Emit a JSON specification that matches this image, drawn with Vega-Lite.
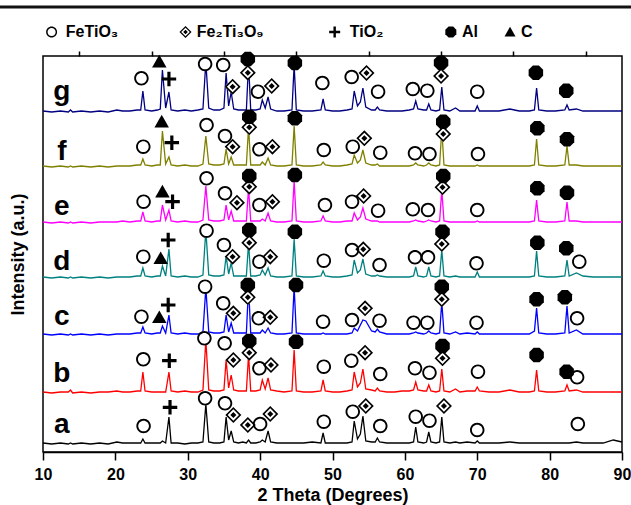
{
  "$schema": "https://vega.github.io/schema/vega-lite/v6.json",
  "width": 579,
  "height": 396,
  "autosize": {"type": "none"},
  "padding": {"left": 43, "top": 56, "right": 9, "bottom": 53},
  "config": {
    "view": {"stroke": "#000", "strokeWidth": 1.5},
    "font": "Liberation Sans",
    "axisX": {"domainColor": "#000", "domainWidth": 1.5, "tickColor": "#000", "tickWidth": 1.5, "grid": false, "labelFont": "Liberation Sans", "labelFontWeight": "bold", "labelFontSize": 16, "labelColor": "#000", "labelFlush": false, "titleFont": "Liberation Sans", "titleFontWeight": "bold", "titleFontSize": 18, "titleColor": "#000"},
    "axisY": {"labels": false, "ticks": false, "domain": false, "grid": false, "titleFont": "Liberation Sans", "titleFontWeight": "bold", "titleFontSize": 18, "titleColor": "#000", "titlePadding": 16}
  },
  "resolve": {"axis": {"x": "independent"}},
  "datasets": {
    "xrd": [
      {"x":10,"a":9,"b":60,"c":118,"d":175,"e":230,"f":286,"g":341},
      {"x":11.2,"a":8,"b":59,"c":117,"d":174,"e":229,"f":285,"g":340},
      {"x":12.4,"a":9,"b":60,"c":118,"d":175,"e":230,"f":286,"g":341},
      {"x":13.5,"a":8,"b":60,"c":117,"d":174,"e":229,"f":285,"g":340},
      {"x":13.8,"a":9,"b":62,"c":118,"d":175,"e":230,"f":286,"g":342},
      {"x":14.1,"a":8,"b":59,"c":117,"d":174,"e":229,"f":285,"g":340},
      {"x":15.3,"a":9,"b":60,"c":118,"d":175,"e":230,"f":286,"g":341},
      {"x":16.6,"a":8,"b":59,"c":117,"d":174,"e":229,"f":285,"g":340},
      {"x":17.8,"a":9,"b":60,"c":118,"d":175,"e":230,"f":286,"g":341},
      {"x":19,"a":8,"b":60,"c":117,"d":174,"e":230,"f":285,"g":340},
      {"x":20.2,"a":10,"b":61,"c":118,"d":175,"e":230,"f":286,"g":342},
      {"x":21,"a":9,"b":60,"c":118,"d":175,"e":231,"f":286,"g":341},
      {"x":22,"a":9,"b":60,"c":118,"d":175,"e":230,"f":286,"g":341},
      {"x":23,"a":9,"b":61,"c":119,"d":176,"e":231,"f":287,"g":342},
      {"x":23.5,"a":9,"b":61,"c":119,"d":176,"e":231,"f":287,"g":342},
      {"x":23.8,"a":13,"b":80,"c":125,"d":184,"e":240,"f":293,"g":361},
      {"x":24.1,"a":9,"b":61,"c":119,"d":176,"e":231,"f":287,"g":342},
      {"x":25,"a":9,"b":60,"c":118,"d":175,"e":230,"f":286,"g":341},
      {"x":25.8,"a":9,"b":60,"c":119,"d":176,"e":231,"f":287,"g":342},
      {"x":26.2,"a":9,"b":60,"c":119,"d":176,"e":231,"f":287,"g":343},
      {"x":26.5,"a":11,"b":60,"c":126,"d":186,"e":247,"f":321,"g":382},
      {"x":26.95,"a":9,"b":60,"c":119,"d":176,"e":232,"f":288,"g":344},
      {"x":27.4,"a":35,"b":80,"c":137,"d":203,"e":242,"f":295,"g":360},
      {"x":27.7,"a":9,"b":61,"c":119,"d":176,"e":231,"f":287,"g":342},
      {"x":28.6,"a":9,"b":60,"c":118,"d":175,"e":230,"f":286,"g":341},
      {"x":29.6,"a":8,"b":61,"c":119,"d":176,"e":231,"f":287,"g":342},
      {"x":30.5,"a":9,"b":60,"c":118,"d":175,"e":230,"f":286,"g":341},
      {"x":31.4,"a":9,"b":60,"c":118,"d":175,"e":230,"f":286,"g":342},
      {"x":32.1,"a":10,"b":62,"c":120,"d":177,"e":232,"f":288,"g":343},
      {"x":32.5,"a":48,"b":112,"c":164,"d":222,"e":266,"f":316,"g":390},
      {"x":32.9,"a":10,"b":62,"c":120,"d":177,"e":232,"f":288,"g":344},
      {"x":33.6,"a":9,"b":61,"c":119,"d":176,"e":231,"f":287,"g":342},
      {"x":34.4,"a":9,"b":61,"c":119,"d":176,"e":231,"f":287,"g":342},
      {"x":35,"a":10,"b":62,"c":120,"d":177,"e":232,"f":288,"g":344},
      {"x":35.3,"a":35,"b":92,"c":137,"d":196,"e":247,"f":303,"g":379},
      {"x":35.65,"a":12,"b":64,"c":120,"d":178,"e":232,"f":288,"g":346},
      {"x":36,"a":21,"b":77,"c":129,"d":189,"e":241,"f":295,"g":360},
      {"x":36.35,"a":10,"b":62,"c":119,"d":176,"e":231,"f":287,"g":343},
      {"x":37,"a":9,"b":61,"c":119,"d":176,"e":231,"f":287,"g":342},
      {"x":37.6,"a":10,"b":61,"c":119,"d":176,"e":231,"f":287,"g":342},
      {"x":38.1,"a":9,"b":61,"c":119,"d":176,"e":231,"f":287,"g":342},
      {"x":38.4,"a":12,"b":97,"c":165,"d":209,"e":264,"f":325,"g":389},
      {"x":38.7,"a":9,"b":61,"c":119,"d":176,"e":231,"f":287,"g":342},
      {"x":39.4,"a":9,"b":61,"c":119,"d":176,"e":231,"f":287,"g":342},
      {"x":40,"a":10,"b":62,"c":119,"d":177,"e":231,"f":287,"g":343},
      {"x":40.3,"a":12,"b":72,"c":122,"d":182,"e":233,"f":290,"g":352},
      {"x":40.7,"a":10,"b":63,"c":119,"d":177,"e":231,"f":287,"g":344},
      {"x":41.1,"a":21,"b":74,"c":124,"d":184,"e":239,"f":294,"g":355},
      {"x":41.45,"a":10,"b":62,"c":119,"d":176,"e":231,"f":287,"g":343},
      {"x":42.3,"a":9,"b":61,"c":118,"d":175,"e":230,"f":286,"g":341},
      {"x":43.3,"a":9,"b":60,"c":118,"d":175,"e":230,"f":286,"g":341},
      {"x":44.4,"a":9,"b":61,"c":119,"d":176,"e":231,"f":287,"g":342},
      {"x":44.7,"a":9,"b":102,"c":165,"d":213,"e":271,"f":326,"g":387},
      {"x":45,"a":9,"b":61,"c":119,"d":176,"e":231,"f":287,"g":342},
      {"x":46,"a":9,"b":60,"c":118,"d":175,"e":230,"f":286,"g":341},
      {"x":47.2,"a":10,"b":60,"c":118,"d":175,"e":230,"f":286,"g":341},
      {"x":48.4,"a":9,"b":61,"c":118,"d":176,"e":231,"f":287,"g":342},
      {"x":48.7,"a":19,"b":72,"c":119,"d":181,"e":236,"f":290,"g":353},
      {"x":49,"a":9,"b":61,"c":118,"d":176,"e":231,"f":287,"g":342},
      {"x":50,"a":9,"b":60,"c":118,"d":175,"e":230,"f":286,"g":341},
      {"x":51,"a":9,"b":60,"c":118,"d":175,"e":230,"f":286,"g":341},
      {"x":52,"a":9,"b":61,"c":118,"d":176,"e":231,"f":287,"g":342},
      {"x":52.7,"a":10,"b":62,"c":119,"d":177,"e":231,"f":288,"g":343},
      {"x":53,"a":31,"b":80,"c":124,"d":192,"e":239,"f":297,"g":361},
      {"x":53.45,"a":13,"b":65,"c":121,"d":179,"e":232,"f":289,"g":346},
      {"x":53.85,"a":18,"b":69,"c":127,"d":182,"e":235,"f":292,"g":350},
      {"x":54.2,"a":36,"b":83,"c":132,"d":193,"e":244,"f":302,"g":364},
      {"x":54.6,"a":11,"b":63,"c":131,"d":178,"e":233,"f":289,"g":345},
      {"x":55.4,"a":10,"b":62,"c":121,"d":176,"e":231,"f":287,"g":342},
      {"x":55.9,"a":10,"b":61,"c":120,"d":176,"e":231,"f":287,"g":342},
      {"x":56.2,"a":14,"b":64,"c":123,"d":177,"e":231,"f":288,"g":345},
      {"x":56.5,"a":10,"b":61,"c":120,"d":176,"e":230,"f":286,"g":342},
      {"x":57.5,"a":9,"b":60,"c":118,"d":175,"e":230,"f":286,"g":341},
      {"x":58.6,"a":9,"b":60,"c":118,"d":175,"e":230,"f":286,"g":341},
      {"x":59.6,"a":9,"b":61,"c":118,"d":175,"e":230,"f":286,"g":341},
      {"x":60.6,"a":9,"b":61,"c":118,"d":175,"e":230,"f":286,"g":342},
      {"x":61.2,"a":10,"b":62,"c":119,"d":176,"e":231,"f":287,"g":343},
      {"x":61.5,"a":25,"b":70,"c":120,"d":185,"e":232,"f":289,"g":351},
      {"x":61.8,"a":10,"b":62,"c":119,"d":176,"e":231,"f":287,"g":343},
      {"x":62.6,"a":9,"b":61,"c":118,"d":175,"e":230,"f":286,"g":342},
      {"x":63,"a":10,"b":61,"c":119,"d":176,"e":231,"f":287,"g":342},
      {"x":63.3,"a":20,"b":67,"c":121,"d":185,"e":232,"f":289,"g":348},
      {"x":63.6,"a":10,"b":61,"c":119,"d":176,"e":231,"f":287,"g":342},
      {"x":64.3,"a":9,"b":60,"c":118,"d":175,"e":230,"f":286,"g":341},
      {"x":64.8,"a":10,"b":61,"c":119,"d":176,"e":231,"f":287,"g":342},
      {"x":65.1,"a":35,"b":83,"c":150,"d":202,"e":262,"f":323,"g":365},
      {"x":65.4,"a":10,"b":61,"c":119,"d":176,"e":231,"f":287,"g":342},
      {"x":66.2,"a":9,"b":60,"c":118,"d":175,"e":230,"f":286,"g":341},
      {"x":67,"a":10,"b":63,"c":120,"d":176,"e":230,"f":286,"g":344},
      {"x":67.6,"a":9,"b":60,"c":118,"d":175,"e":230,"f":286,"g":341},
      {"x":68.6,"a":10,"b":61,"c":119,"d":175,"e":230,"f":286,"g":341},
      {"x":69.7,"a":9,"b":61,"c":118,"d":175,"e":230,"f":286,"g":341},
      {"x":70,"a":11,"b":65,"c":120,"d":180,"e":231,"f":287,"g":346},
      {"x":70.3,"a":9,"b":61,"c":118,"d":175,"e":230,"f":286,"g":341},
      {"x":71.6,"a":9,"b":60,"c":118,"d":175,"e":230,"f":286,"g":341},
      {"x":73,"a":9,"b":60,"c":118,"d":175,"e":230,"f":286,"g":341},
      {"x":74.5,"a":10,"b":62,"c":118,"d":175,"e":230,"f":286,"g":343},
      {"x":75.8,"a":9,"b":60,"c":118,"d":175,"e":230,"f":286,"g":341},
      {"x":77.2,"a":9,"b":60,"c":118,"d":175,"e":230,"f":286,"g":341},
      {"x":77.9,"a":9,"b":61,"c":121,"d":176,"e":231,"f":287,"g":342},
      {"x":78.2,"a":9,"b":82,"c":144,"d":201,"e":252,"f":313,"g":364},
      {"x":78.5,"a":9,"b":61,"c":119,"d":176,"e":231,"f":287,"g":342},
      {"x":79.6,"a":9,"b":60,"c":118,"d":175,"e":230,"f":286,"g":341},
      {"x":80.8,"a":9,"b":60,"c":118,"d":175,"e":230,"f":286,"g":341},
      {"x":82.1,"a":9,"b":61,"c":119,"d":176,"e":231,"f":287,"g":342},
      {"x":82.4,"a":9,"b":67,"c":146,"d":192,"e":250,"f":306,"g":347},
      {"x":82.7,"a":9,"b":61,"c":119,"d":176,"e":231,"f":287,"g":342},
      {"x":83.7,"a":10,"b":62,"c":122,"d":179,"e":231,"f":287,"g":343},
      {"x":84.6,"a":9,"b":60,"c":118,"d":176,"e":230,"f":286,"g":341},
      {"x":86,"a":9,"b":60,"c":118,"d":175,"e":230,"f":286,"g":341},
      {"x":87.4,"a":9,"b":60,"c":118,"d":175,"e":230,"f":286,"g":341},
      {"x":88.8,"a":12,"b":60,"c":118,"d":175,"e":230,"f":286,"g":341},
      {"x":90,"a":10,"b":60,"c":118,"d":175,"e":230,"f":286,"g":341}
    ],
    "b1": [{"x":4,"y":445},{"x":91.5,"y":445}],
    "markers": [
      {"t":"FeTiO3","x":23.6,"y":373.7},{"t":"C","x":26.07,"y":390.3},{"t":"TiO2","x":27.4,"y":373},{"t":"FeTiO3","x":32.4,"y":388},{"t":"FeTiO3","x":34.9,"y":387},{"t":"Fe2Ti3O9","x":36.2,"y":365.3},{"t":"Fe2Ti3O9","x":38.3,"y":379.3},{"t":"Al","x":38.3,"y":393},{"t":"FeTiO3","x":39.7,"y":360.3},{"t":"Fe2Ti3O9","x":41.6,"y":366},{"t":"Al","x":44.8,"y":389},{"t":"FeTiO3","x":48.6,"y":369},{"t":"FeTiO3","x":52.65,"y":375},{"t":"Fe2Ti3O9","x":54.7,"y":379},{"t":"FeTiO3","x":56.3,"y":360.3},{"t":"FeTiO3","x":61.1,"y":363},{"t":"FeTiO3","x":63.1,"y":361.3},{"t":"Fe2Ti3O9","x":65.0,"y":376},{"t":"Al","x":65.0,"y":389.3},{"t":"FeTiO3","x":70.0,"y":360.3},{"t":"Al","x":78.1,"y":379.3},{"t":"Al","x":82.3,"y":361.3},
      {"t":"FeTiO3","x":23.86,"y":305.3},{"t":"C","x":26.4,"y":330.3},{"t":"TiO2","x":27.8,"y":309.3},{"t":"FeTiO3","x":32.6,"y":327},{"t":"FeTiO3","x":35.15,"y":316},{"t":"Fe2Ti3O9","x":36.2,"y":305.3},{"t":"Fe2Ti3O9","x":38.5,"y":324.7},{"t":"Al","x":38.5,"y":335.3},{"t":"FeTiO3","x":39.9,"y":302.7},{"t":"Fe2Ti3O9","x":41.7,"y":305.3},{"t":"Al","x":44.8,"y":333.7},{"t":"FeTiO3","x":48.8,"y":302},{"t":"FeTiO3","x":52.8,"y":305.3},{"t":"Fe2Ti3O9","x":54.4,"y":313.7},{"t":"FeTiO3","x":56.6,"y":299.3},{"t":"FeTiO3","x":61.4,"y":298.7},{"t":"FeTiO3","x":63.4,"y":298},{"t":"Fe2Ti3O9","x":65.3,"y":318},{"t":"Al","x":65.3,"y":330.3},{"t":"FeTiO3","x":70.1,"y":298},{"t":"Al","x":78.3,"y":323.7},{"t":"Al","x":82.4,"y":312.7},
      {"t":"FeTiO3","x":23.9,"y":250.3},{"t":"C","x":26.5,"y":260.3},{"t":"TiO2","x":27.9,"y":250.3},{"t":"FeTiO3","x":32.6,"y":273.7},{"t":"FeTiO3","x":35.15,"y":258.7},{"t":"Fe2Ti3O9","x":36.8,"y":249.3},{"t":"Fe2Ti3O9","x":38.5,"y":265.3},{"t":"Al","x":38.5,"y":276},{"t":"FeTiO3","x":39.9,"y":247},{"t":"Fe2Ti3O9","x":41.7,"y":250.3},{"t":"Al","x":44.8,"y":277},{"t":"FeTiO3","x":48.96,"y":247},{"t":"FeTiO3","x":52.7,"y":250.3},{"t":"Fe2Ti3O9","x":54.3,"y":256},{"t":"FeTiO3","x":56.3,"y":241.3},{"t":"FeTiO3","x":61.1,"y":242.7},{"t":"FeTiO3","x":63.2,"y":242},{"t":"Fe2Ti3O9","x":65.2,"y":264.7},{"t":"Al","x":65.3,"y":276},{"t":"FeTiO3","x":70.0,"y":242},{"t":"Al","x":78.3,"y":263.7},{"t":"Al","x":82.4,"y":259.3},
      {"t":"FeTiO3","x":23.86,"y":195.3},{"t":"C","x":26.26,"y":193.7},{"t":"TiO2","x":27.3,"y":212},{"t":"FeTiO3","x":32.6,"y":221.3},{"t":"FeTiO3","x":35.0,"y":207},{"t":"Fe2Ti3O9","x":36.2,"y":195.3},{"t":"Fe2Ti3O9","x":38.5,"y":209.3},{"t":"Al","x":38.5,"y":222},{"t":"FeTiO3","x":39.9,"y":190.3},{"t":"Fe2Ti3O9","x":41.4,"y":195.3},{"t":"Al","x":44.8,"y":220.3},{"t":"FeTiO3","x":48.8,"y":191.3},{"t":"FeTiO3","x":52.7,"y":202},{"t":"Fe2Ti3O9","x":54.25,"y":202.7},{"t":"FeTiO3","x":56.5,"y":187},{"t":"FeTiO3","x":61.4,"y":194.7},{"t":"FeTiO3","x":63.2,"y":194.7},{"t":"Fe2Ti3O9","x":65.1,"y":208},{"t":"Al","x":65.2,"y":220.3},{"t":"FeTiO3","x":69.9,"y":188.7},{"t":"Al","x":78.3,"y":209.3},{"t":"Al","x":82.3,"y":203.7},{"t":"FeTiO3","x":84.1,"y":190.3},
      {"t":"FeTiO3","x":23.6,"y":135.3},{"t":"C","x":26.07,"y":134.7},{"t":"TiO2","x":27.3,"y":147},{"t":"FeTiO3","x":32.4,"y":165.3},{"t":"FeTiO3","x":34.9,"y":148.7},{"t":"Fe2Ti3O9","x":36.3,"y":138.7},{"t":"Fe2Ti3O9","x":38.3,"y":154.7},{"t":"Al","x":38.3,"y":167},{"t":"FeTiO3","x":39.8,"y":133.7},{"t":"Fe2Ti3O9","x":41.4,"y":134.7},{"t":"Al","x":44.96,"y":167},{"t":"FeTiO3","x":48.7,"y":130.3},{"t":"FeTiO3","x":52.7,"y":132},{"t":"Fe2Ti3O9","x":54.5,"y":143.7},{"t":"FeTiO3","x":56.5,"y":131.3},{"t":"FeTiO3","x":61.2,"y":129.3},{"t":"FeTiO3","x":63.1,"y":129.3},{"t":"Fe2Ti3O9","x":65.1,"y":152.7},{"t":"Al","x":65.1,"y":165.3},{"t":"FeTiO3","x":69.9,"y":129.3},{"t":"Al","x":78.2,"y":152.7},{"t":"Al","x":82.1,"y":154.7},{"t":"FeTiO3","x":83.8,"y":133.7},
      {"t":"FeTiO3","x":23.86,"y":92.7},{"t":"TiO2","x":27.45,"y":91.3},{"t":"FeTiO3","x":32.3,"y":113.7},{"t":"FeTiO3","x":35.1,"y":108.7},{"t":"Fe2Ti3O9","x":36.3,"y":92},{"t":"Fe2Ti3O9","x":38.5,"y":99.3},{"t":"Al","x":38.5,"y":111},{"t":"FeTiO3","x":39.9,"y":83.7},{"t":"Fe2Ti3O9","x":41.5,"y":87},{"t":"Al","x":44.96,"y":110.3},{"t":"FeTiO3","x":48.8,"y":85.3},{"t":"FeTiO3","x":52.6,"y":91.3},{"t":"Fe2Ti3O9","x":54.5,"y":99.3},{"t":"FeTiO3","x":56.6,"y":78},{"t":"FeTiO3","x":61.4,"y":83.7},{"t":"FeTiO3","x":63.4,"y":79.3},{"t":"Fe2Ti3O9","x":65.2,"y":93.7},{"t":"Al","x":65.2,"y":106},{"t":"FeTiO3","x":70.1,"y":80.3},{"t":"Al","x":78.2,"y":97},{"t":"Al","x":82.35,"y":80.3},{"t":"FeTiO3","x":83.8,"y":74.7},
      {"t":"FeTiO3","x":23.9,"y":26},{"t":"TiO2","x":27.55,"y":44.7},{"t":"FeTiO3","x":32.4,"y":53.7},{"t":"FeTiO3","x":35.15,"y":48.7},{"t":"Fe2Ti3O9","x":36.3,"y":37},{"t":"Fe2Ti3O9","x":38.3,"y":27},{"t":"FeTiO3","x":40.0,"y":28},{"t":"Fe2Ti3O9","x":41.4,"y":38},{"t":"FeTiO3","x":48.8,"y":30.3},{"t":"FeTiO3","x":52.8,"y":40.3},{"t":"Fe2Ti3O9","x":54.6,"y":46},{"t":"FeTiO3","x":56.6,"y":26},{"t":"FeTiO3","x":61.5,"y":35.3},{"t":"FeTiO3","x":63.4,"y":31.3},{"t":"Fe2Ti3O9","x":65.4,"y":46},{"t":"FeTiO3","x":70.0,"y":22},{"t":"FeTiO3","x":83.9,"y":28}
    ],
    "labels": [
      {"s":"a","x":12.6,"y":19},{"s":"b","x":12.6,"y":70},{"s":"c","x":12.6,"y":127},{"s":"d","x":12.6,"y":182},{"s":"e","x":12.6,"y":237},{"s":"f","x":12.6,"y":292},{"s":"g","x":12.6,"y":352}
    ],
    "legend": [
      {"t":"FeTiO3","label":"FeTiO₃","sx":11.19,"lx":13.15,"y":420},
      {"t":"Fe2Ti3O9","label":"Fe₂Ti₃O₉","sx":29.69,"lx":31.25,"y":420},
      {"t":"TiO2","label":"TiO₂","sx":50.3,"lx":52.4,"y":420},
      {"t":"Al","label":"Al","sx":66.35,"lx":67.9,"y":420},
      {"t":"C","label":"C","sx":74.53,"lx":76.05,"y":420}
    ]
  },
  "layer": [
    {
      "data": {"name": "xrd"},
      "transform": [{"fold": ["a","b","c","d","e","f","g"], "as": ["s","y"]}],
      "mark": {"type": "line", "strokeWidth": 1.3},
      "encoding": {
        "x": {"field": "x", "type": "quantitative", "scale": {"domain": [10, 90], "nice": false, "zero": false},
              "axis": {"title": "2 Theta (Degrees)", "values": [10,20,30,40,50,60,70,80,90], "tickSize": 8, "labelPadding": 6, "titlePadding": 4}},
        "y": {"field": "y", "type": "quantitative", "scale": {"domain": [0, 396], "nice": false}, "title": "Intensity (a.u.)"},
        "color": {"field": "s", "type": "nominal", "scale": {"domain": ["a","b","c","d","e","f","g"], "range": ["#000000","#ff0000","#0000ff","#008080","#ff00ff","#808000","#000080"]}, "legend": null}
      }
    },
    {
      "data": {"name": "b1"},
      "mark": {"type": "line", "strokeWidth": 3, "color": "#121212"},
      "encoding": {
        "x": {"field": "x", "type": "quantitative", "scale": {"domain": [10, 90], "nice": false, "zero": false}, "axis": null},
        "y": {"field": "y", "type": "quantitative", "scale": {"domain": [0, 396], "nice": false}, "title": "Intensity (a.u.)"}
      }
    },
    {
      "data": {"name": "markers"},
      "transform": [{"filter": "datum.t === 'FeTiO3'"}],
      "mark": {"type": "point", "shape": "circle", "filled": true, "color": "#fff", "opacity": 1, "size": 190},
      "encoding": {
        "x": {"field": "x", "type": "quantitative", "scale": {"domain": [10, 90], "nice": false, "zero": false}, "axis": null},
        "y": {"field": "y", "type": "quantitative", "scale": {"domain": [0, 396], "nice": false}, "title": "Intensity (a.u.)"}
      }
    },
    {
      "data": {"name": "markers"},
      "transform": [{"filter": "datum.t === 'Fe2Ti3O9'"}],
      "mark": {"type": "point", "shape": "diamond", "filled": true, "color": "#fff", "opacity": 1, "size": 250},
      "encoding": {
        "x": {"field": "x", "type": "quantitative", "scale": {"domain": [10, 90], "nice": false, "zero": false}, "axis": null},
        "y": {"field": "y", "type": "quantitative", "scale": {"domain": [0, 396], "nice": false}, "title": "Intensity (a.u.)"}
      }
    },
    {
      "data": {"name": "markers"},
      "mark": {"type": "point", "filled": true, "color": "#000", "opacity": 1, "strokeWidth": 0, "size": 210},
      "encoding": {
        "x": {"field": "x", "type": "quantitative", "scale": {"domain": [10, 90], "nice": false, "zero": false}, "axis": null},
        "y": {"field": "y", "type": "quantitative", "scale": {"domain": [0, 396], "nice": false}, "title": "Intensity (a.u.)"},
        "shape": {"field": "t", "type": "nominal", "legend": null,
                  "scale": {"domain": ["FeTiO3","Fe2Ti3O9","TiO2","Al","C"],
                            "range": ["M-1,0A1,1,0,1,0,1,0A1,1,0,1,0,-1,0ZM-0.74,0A0.74,0.74,0,1,1,0.74,0A0.74,0.74,0,1,1,-0.74,0Z",
                                      "M0,-1.1L1.1,0L0,1.1L-1.1,0ZM0,-0.78L-0.78,0L0,0.78L0.78,0ZM0,-0.42L0.42,0L0,0.42L-0.42,0Z",
                                      "M-1,-0.22H-0.22V-1H0.22V-0.22H1V0.22H0.22V1H-0.22V0.22H-1Z",
                                      "M-0.414,-1H0.414L1,-0.414V0.414L0.414,1H-0.414L-1,0.414V-0.414Z",
                                      "M0,-0.95L1,0.8H-1Z"]}}
      }
    },
    {
      "data": {"name": "labels"},
      "mark": {"type": "text", "font": "Liberation Sans", "fontWeight": "bold", "fontSize": 28, "align": "center", "baseline": "alphabetic", "color": "#000"},
      "encoding": {
        "x": {"field": "x", "type": "quantitative", "scale": {"domain": [10, 90], "nice": false, "zero": false},
              "axis": {"values": [15,25,35,45,55,65,75,85], "labels": false, "title": null, "domain": false, "tickSize": 5}},
        "y": {"field": "y", "type": "quantitative", "scale": {"domain": [0, 396], "nice": false}, "title": "Intensity (a.u.)"},
        "text": {"field": "s", "type": "nominal"}
      }
    },
    {
      "data": {"name": "legend"},
      "mark": {"type": "point", "filled": true, "color": "#000", "opacity": 1, "strokeWidth": 0, "size": 121},
      "encoding": {
        "x": {"field": "sx", "type": "quantitative", "scale": {"domain": [10, 90], "nice": false, "zero": false}, "axis": null},
        "y": {"field": "y", "type": "quantitative", "scale": {"domain": [0, 396], "nice": false}, "title": "Intensity (a.u.)"},
        "shape": {"field": "t", "type": "nominal", "legend": null}
      }
    },
    {
      "data": {"name": "legend"},
      "mark": {"type": "text", "font": "Liberation Sans", "fontWeight": "bold", "fontSize": 16, "align": "left", "baseline": "middle", "color": "#000"},
      "encoding": {
        "x": {"field": "lx", "type": "quantitative", "scale": {"domain": [10, 90], "nice": false, "zero": false}, "axis": null},
        "y": {"field": "y", "type": "quantitative", "scale": {"domain": [0, 396], "nice": false}, "title": "Intensity (a.u.)"},
        "text": {"field": "label", "type": "nominal"}
      }
    }
  ]
}
